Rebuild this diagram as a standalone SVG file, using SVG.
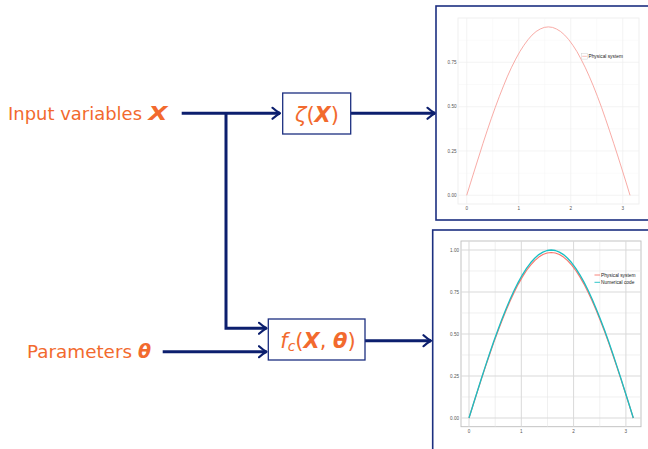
<svg xmlns="http://www.w3.org/2000/svg" width="648" height="449" viewBox="0 0 648 449">
<style>
.lbl{font-family:"DejaVu Sans","Liberation Sans",sans-serif;fill:#f26a2e;}
.bi{font-weight:bold;font-style:italic;}
.it{font-style:italic;}
.box{fill:#fff;stroke:#1c2f80;stroke-width:1.3;}
.conn{fill:none;stroke:#0c1f6e;stroke-width:3;}
.frame{fill:#fff;stroke:#1c2f80;stroke-width:1.6;}
.tick{font-family:"Liberation Sans",sans-serif;font-size:4.6px;fill:#555;}
.leg{font-family:"Liberation Sans",sans-serif;font-size:4.8px;fill:#222;}
.g1{stroke:#efefef;stroke-width:0.7;}
.g1m{stroke:#f5f5f5;stroke-width:0.5;}
.g2{stroke:#d9d9d9;stroke-width:1;}
.g2m{stroke:#e6e6e6;stroke-width:0.6;}
</style>
<defs>
<marker id="arr" markerUnits="userSpaceOnUse" viewBox="0 0 10 14" refX="9" refY="7" markerWidth="10" markerHeight="14" orient="auto">
<path d="M1.5,1.5 Q6,5.5 9,7 Q6,8.5 1.5,12.5" fill="none" stroke="#0c1f6e" stroke-width="2.2" stroke-linecap="round" stroke-linejoin="round"/>
</marker>
</defs>
<rect width="648" height="449" fill="#fff"/>

<g id="input-label">
<text class="lbl" x="8" y="119.5" font-size="18" textLength="134" lengthAdjust="spacingAndGlyphs">Input variables</text>
<text class="lbl bi" x="148.5" y="119.5" font-size="19" textLength="19" lengthAdjust="spacingAndGlyphs">X</text>
</g>
<g id="params-label">
<text class="lbl" x="27" y="357.7" font-size="18" textLength="105" lengthAdjust="spacingAndGlyphs">Parameters</text>
<text class="lbl bi" x="138" y="357.7" font-size="19">θ</text>
</g>

<g id="connectors">
<path class="conn" d="M181.7,113.3 H280" marker-end="url(#arr)"/>
<path class="conn" d="M226,113.3 V328.3 H266.5" marker-end="url(#arr)"/>
<path class="conn" d="M162.7,351.7 H266.5" marker-end="url(#arr)"/>
<path class="conn" d="M350.7,113.3 H435" marker-end="url(#arr)"/>
<path class="conn" d="M365,340.7 H431" marker-end="url(#arr)"/>
</g>

<g id="zeta-node">
<rect class="box" x="282.7" y="93" width="68" height="41"/>
<text class="lbl" x="317" y="121.7" font-size="21" text-anchor="middle"><tspan class="it">ζ</tspan>(<tspan class="bi">X</tspan>)</text>
</g>

<g id="fc-node">
<rect class="box" x="268.3" y="319" width="96.7" height="41"/>
<text class="lbl" x="318" y="348.3" font-size="21" text-anchor="middle"><tspan class="it">f</tspan><tspan class="it" font-size="14" dy="3">c</tspan><tspan dy="-3">(</tspan><tspan class="bi">X</tspan>, <tspan class="bi">θ</tspan>)</text>
</g>

<g id="plot-physical">
<rect class="frame" x="436" y="6" width="220" height="214"/>
<rect x="458" y="18" width="181" height="186" fill="#fff" stroke="#ececec" stroke-width="0.8"/>
<g class="g1m">
<line x1="458" x2="639" y1="173.2" y2="173.2"/><line x1="458" x2="639" y1="128.8" y2="128.8"/><line x1="458" x2="639" y1="84.5" y2="84.5"/><line x1="458" x2="639" y1="40.2" y2="40.2"/>
<line x1="492.7" x2="492.7" y1="18" y2="204"/><line x1="544.7" x2="544.7" y1="18" y2="204"/><line x1="596.7" x2="596.7" y1="18" y2="204"/>
</g>
<g class="g1">
<line x1="458" x2="639" y1="195.3" y2="195.3"/><line x1="458" x2="639" y1="151" y2="151"/><line x1="458" x2="639" y1="106.7" y2="106.7"/><line x1="458" x2="639" y1="62.3" y2="62.3"/>
<line x1="466.7" x2="466.7" y1="18" y2="204"/><line x1="518.7" x2="518.7" y1="18" y2="204"/><line x1="570.7" x2="570.7" y1="18" y2="204"/><line x1="622.7" x2="622.7" y1="18" y2="204"/>
</g>
<polyline fill="none" stroke="#f7a29c" stroke-width="0.9" stroke-linejoin="round" points="466.7,195.3 470.8,182.1 474.9,169 479,156 483,143.3 487.1,130.9 491.2,118.8 495.3,107.3 499.4,96.3 503.5,85.9 507.5,76.2 511.6,67.2 515.7,59.1 519.8,51.7 523.9,45.3 528,39.7 532,35.1 536.1,31.5 540.2,29 544.3,27.4 548.4,26.9 552.5,27.4 556.5,29 560.6,31.5 564.7,35.1 568.8,39.7 572.9,45.3 577,51.7 581,59.1 585.1,67.2 589.2,76.2 593.3,85.9 597.4,96.3 601.5,107.3 605.5,118.8 609.6,130.9 613.7,143.3 617.8,156 621.9,169 626,182.1 630,195.3"/>
<g class="tick" text-anchor="end">
<text x="456.5" y="197">0.00</text><text x="456.5" y="152.7">0.25</text><text x="456.5" y="108.4">0.50</text><text x="456.5" y="64">0.75</text>
</g>
<g class="tick" text-anchor="middle">
<text x="466.7" y="210">0</text><text x="518.7" y="210">1</text><text x="570.7" y="210">2</text><text x="622.7" y="210">3</text>
</g>
<rect x="581.7" y="53.5" width="5.6" height="5.6" fill="#fff" stroke="#cfcfcf" stroke-width="0.5"/>
<line x1="582.2" x2="586.8" y1="56.3" y2="56.3" stroke="#f7a29c" stroke-width="0.7"/>
<text class="leg" x="588.5" y="58">Physical system</text>
</g>

<g id="plot-comparison">
<rect class="frame" x="432.7" y="230" width="230" height="240"/>
<rect x="461" y="241" width="180" height="185.7" fill="#fff" stroke="#bdbdbd" stroke-width="0.9"/>
<g class="g2m">
<line x1="461" x2="641" y1="397" y2="397"/><line x1="461" x2="641" y1="355" y2="355"/><line x1="461" x2="641" y1="313" y2="313"/><line x1="461" x2="641" y1="271" y2="271"/>
<line x1="495.2" x2="495.2" y1="241" y2="426.7"/><line x1="547.5" x2="547.5" y1="241" y2="426.7"/><line x1="599.8" x2="599.8" y1="241" y2="426.7"/>
</g>
<g class="g2">
<line x1="461" x2="641" y1="418" y2="418"/><line x1="461" x2="641" y1="376" y2="376"/><line x1="461" x2="641" y1="334" y2="334"/><line x1="461" x2="641" y1="292" y2="292"/><line x1="461" x2="641" y1="250" y2="250"/>
<line x1="469" x2="469" y1="241" y2="426.7"/><line x1="521.3" x2="521.3" y1="241" y2="426.7"/><line x1="573.6" x2="573.6" y1="241" y2="426.7"/><line x1="625.9" x2="625.9" y1="241" y2="426.7"/>
</g>
<polyline fill="none" stroke="#f8766d" stroke-width="1.2" stroke-linejoin="round" points="469,418 473.1,405 477.2,392.1 481.3,379.4 485.4,366.9 489.5,354.7 493.6,342.9 497.8,331.5 501.9,320.7 506,310.5 510.1,301 514.2,292.2 518.3,284.1 522.4,276.9 526.5,270.5 530.6,265.1 534.7,260.6 538.8,257.1 542.9,254.5 547.1,253 551.2,252.5 555.3,253 559.4,254.5 563.5,257.1 567.6,260.6 571.7,265.1 575.8,270.5 579.9,276.9 584,284.1 588.1,292.2 592.2,301 596.3,310.5 600.4,320.7 604.6,331.5 608.7,342.9 612.8,354.7 616.9,366.9 621,379.4 625.1,392.1 629.2,405 633.3,418"/>
<polyline fill="none" stroke="#19bfc3" stroke-width="1.3" stroke-linejoin="round" points="469,418 473.1,404.8 477.2,391.7 481.3,378.8 485.4,366.1 489.5,353.7 493.6,341.7 497.8,330.2 501.9,319.2 506,308.9 510.1,299.2 514.2,290.3 518.3,282.1 522.4,274.8 526.5,268.3 530.6,262.8 534.7,258.2 538.8,254.6 542.9,252.1 547.1,250.5 551.2,250 555.3,250.5 559.4,252.1 563.5,254.6 567.6,258.2 571.7,262.8 575.8,268.3 579.9,274.8 584,282.1 588.1,290.3 592.2,299.2 596.3,308.9 600.4,319.2 604.6,330.2 608.7,341.7 612.8,353.7 616.9,366.1 621,378.8 625.1,391.7 629.2,404.8 633.3,418"/>
<g class="tick" text-anchor="end">
<text x="459" y="419.7">0.00</text><text x="459" y="377.7">0.25</text><text x="459" y="335.7">0.50</text><text x="459" y="293.7">0.75</text><text x="459" y="251.7">1.00</text>
</g>
<g class="tick" text-anchor="middle">
<text x="469" y="433">0</text><text x="521.3" y="433">1</text><text x="573.6" y="433">2</text><text x="625.9" y="433">3</text>
</g>
<line x1="594.5" x2="600" y1="275" y2="275" stroke="#f8766d" stroke-width="0.9"/>
<line x1="594.5" x2="600" y1="282.3" y2="282.3" stroke="#19bfc3" stroke-width="0.9"/>
<text class="leg" x="601" y="276.7">Physical system</text>
<text class="leg" x="601" y="284">Numerical code</text>
</g>
</svg>
